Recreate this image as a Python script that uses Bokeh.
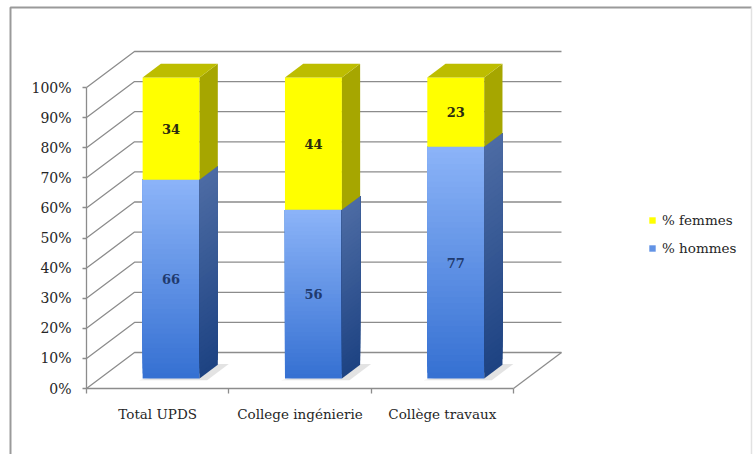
from bokeh.plotting import figure
from bokeh.models import Range1d, LinearAxis, FixedTicker, Legend, LegendItem
from bokeh.core.properties import value
from bokeh.embed import file_html
from bokeh.resources import INLINE

# ---- data -------------------------------------------------------------
categories = ["Total UPDS", "College ingénierie", "Collège travaux"]
hommes = [66, 56, 77]          # % hommes (bottom segment)
femmes = [34, 44, 23]          # % femmes (top segment)
series_names = ["% femmes", "% hommes"]
y_ticks = [0, 10, 20, 30, 40, 50, 60, 70, 80, 90, 100]
y_tick_labels = ["0%", "10%", "20%", "30%", "40%", "50%", "60%", "70%", "80%", "90%", "100%"]

# ---- layout (pixels) --------------------------------------------------
W, H = 754, 454
AXIS_X_PX = 86.0      # front vertical axis
FLOOR_Y_PX = 388.0    # front 0% line
CAT_PX = 142.33       # width of one category on the front plane
PCT_PX = 3.01         # pixels per percent
DEPTH_X_PX, DEPTH_Y_PX = 48.0, 36.0   # full depth of the 3-D box

DXU = DEPTH_X_PX / CAT_PX
DYU = DEPTH_Y_PX / PCT_PX
Z_FRONT, Z_BACK = 0.28, 0.66          # depth span occupied by the columns
BAR_W = 0.40

GRID = "#8c8c8c"
SERIF = "DejaVu Serif"
TEXT = "#262626"


def px_x(px):
    return (px - AXIS_X_PX) / CAT_PX


def px_y(py):
    return (FLOOR_Y_PX - py) / PCT_PX


def proj(u, v, z):
    return u + z * DXU, v + z * DYU


def lerp_hex(c1, c2, t):
    a = [int(c1[i:i + 2], 16) for i in (1, 3, 5)]
    b = [int(c2[i:i + 2], 16) for i in (1, 3, 5)]
    return "#" + "".join(f"{round(x + (y - x) * t):02x}" for x, y in zip(a, b))


def face(u, v0, v1, z0, z1):
    """Side face (constant u) between heights v0..v1 and depths z0..z1."""
    pts = [proj(u, v0, z0), proj(u, v0, z1), proj(u, v1, z1), proj(u, v1, z0)]
    return [q[0] for q in pts], [q[1] for q in pts]


p = figure(width=W, height=H,
           x_range=Range1d(px_x(0), px_x(W)), y_range=Range1d(px_y(H), px_y(0)),
           x_axis_location=None, y_axis_location=None,
           toolbar_location=None, output_backend="svg", min_border=0,
           outline_line_color=None, background_fill_color="white",
           border_fill_color="white")
p.grid.grid_line_color = None

# chart-area frame
p.line([px_x(10), px_x(10), px_x(751)], [px_y(470), px_y(7), px_y(7)],
       line_color="#9a9a9a", line_width=2)
p.line([px_x(751), px_x(751)], [px_y(7), px_y(470)], line_color="#e2e2e2", line_width=1.5)

# ---- walls and floor --------------------------------------------------
n_cat = len(categories)
for t in y_ticks:
    x0, y0 = proj(0, t, 0)
    x1, y1 = proj(0, t, 1)
    x2, y2 = proj(n_cat, t, 1)
    p.line([x0, x1, x2], [y0, y1, y2], line_color=GRID, line_width=1.3)
fx0, fy0 = proj(n_cat, 0, 0)
fx1, fy1 = proj(n_cat, 0, 1)
p.line([fx0, fx1], [fy0, fy1], line_color=GRID, line_width=1.3)

# ---- 3-D stacked columns ----------------------------------------------
N_SLICES = 40
FRONT_TOP, FRONT_BOT = "#8cb4f8", "#3570d2"
SIDE_TOP, SIDE_BOT = "#4d6ca4", "#1d4282"
YEL_FRONT, YEL_SIDE, YEL_TOP = "#ffff00", "#a6a600", "#bdbd00"

legend_refs = {}
for i, (h, f) in enumerate(zip(hommes, femmes)):
    left, right = i + 0.5 - BAR_W / 2, i + 0.5 + BAR_W / 2
    lx, _ = proj(left, 0, Z_FRONT)
    rx, _ = proj(right, 0, Z_FRONT)
    total = h + f

    # soft contact shadow on the floor
    sh = [proj(left - 0.01, 0, Z_FRONT - 0.05), proj(right + 0.07, 0, Z_FRONT - 0.05),
          proj(right + 0.07, 0, Z_BACK + 0.02), proj(right, 0, Z_BACK + 0.02)]
    p.patch([q[0] for q in sh], [q[1] for q in sh], fill_color="#7f7f7f",
            fill_alpha=0.22, line_color=None)

    # blue segment: overlapping slices, shaded light (top) to deep blue (bottom)
    bots, cols, sxs, sys_, scols = [], [], [], [], []
    for k in range(N_SLICES):
        v0 = h * k / N_SLICES
        t = 1 - (k + 0.5) / N_SLICES
        bots.append(proj(left, v0, Z_FRONT)[1])
        cols.append(lerp_hex(FRONT_TOP, FRONT_BOT, t))
        xs, ys = face(right, v0, h, Z_FRONT, Z_BACK)
        sxs.append(xs)
        sys_.append(ys)
        scols.append(lerp_hex(SIDE_TOP, SIDE_BOT, t))
    top_blue = proj(left, h, Z_FRONT)[1]
    r_blue = p.quad(left=lx, right=rx, bottom=bots, top=top_blue,
                    fill_color=cols, line_color=None)
    p.patches(sxs, sys_, fill_color=scols, line_color=None)

    # yellow segment
    yb = proj(left, h, Z_FRONT)[1]
    yt = proj(left, total, Z_FRONT)[1]
    r_yel = p.quad(left=lx, right=rx, bottom=yb, top=yt,
                   fill_color=YEL_FRONT, line_color=None)
    xs, ys = face(right, h, total, Z_FRONT, Z_BACK)
    p.patch(xs, ys, fill_color=YEL_SIDE, line_color=None)
    # top face
    pts = [proj(left, total, Z_FRONT), proj(left, total, Z_BACK),
           proj(right, total, Z_BACK), proj(right, total, Z_FRONT)]
    p.patch([q[0] for q in pts], [q[1] for q in pts],
            fill_color=YEL_TOP, line_color=None)

    # value labels, centred on each segment's front face
    cx = proj(i + 0.5, 0, Z_FRONT)[0]
    p.text(x=[cx], y=[proj(0, h / 2, Z_FRONT)[1]], text=[str(h)],
           text_font=value(SERIF), text_font_style="bold", text_font_size="13px",
           text_color="#1f3a6e", text_align="center", text_baseline="middle")
    p.text(x=[cx], y=[proj(0, h + f / 2, Z_FRONT)[1]], text=[str(f)],
           text_font=value(SERIF), text_font_style="bold", text_font_size="13px",
           text_color="#2b2b10", text_align="center", text_baseline="middle")

    legend_refs.setdefault("femmes", r_yel)
    legend_refs.setdefault("hommes", r_blue)

# ---- axes -------------------------------------------------------------
yaxis = LinearAxis(fixed_location=0, bounds=(0, 100),
                   ticker=FixedTicker(ticks=y_ticks),
                   major_label_overrides={t: lab for t, lab in zip(y_ticks, y_tick_labels)},
                   major_tick_in=0, major_tick_out=4, minor_tick_line_color=None,
                   axis_line_color=GRID, axis_line_width=1.3,
                   major_tick_line_color=GRID, major_tick_line_width=1.3,
                   major_label_standoff=11,
                   major_label_text_font=SERIF, major_label_text_font_size="14px",
                   major_label_text_color=TEXT)
p.add_layout(yaxis, "left")

xaxis = LinearAxis(fixed_location=0, bounds=(0, n_cat),
                   ticker=FixedTicker(ticks=list(range(n_cat + 1))),
                   major_tick_in=0, major_tick_out=5, minor_tick_line_color=None,
                   axis_line_color=GRID, axis_line_width=1.3,
                   major_tick_line_color=GRID, major_tick_line_width=1.3,
                   major_label_text_color=None)
p.add_layout(xaxis, "below")

centres = [i + 0.5 for i in range(n_cat)]
xlabels = LinearAxis(fixed_location=0,
                     ticker=FixedTicker(ticks=centres),
                     major_label_overrides={c: name for c, name in zip(centres, categories)},
                     major_tick_line_color=None, minor_tick_line_color=None,
                     axis_line_color=None, major_label_standoff=11,
                     major_label_text_font=SERIF, major_label_text_font_size="13.5px",
                     major_label_text_color=TEXT)
p.add_layout(xlabels, "below")

# ---- legend -----------------------------------------------------------
legend = Legend(items=[LegendItem(label=series_names[0], renderers=[legend_refs["femmes"]]),
                       LegendItem(label=series_names[1], renderers=[legend_refs["hommes"]], index=N_SLICES // 2)],
                location=(648, 198), orientation="vertical",
                glyph_width=8, glyph_height=8, label_height=16, spacing=12,
                label_standoff=6, padding=0, margin=0,
                border_line_color=None, background_fill_alpha=0,
                label_text_font=SERIF, label_text_font_size="13.5px",
                label_text_color=TEXT)
p.add_layout(legend, "center")

open("out.html", "w").write(file_html(p, INLINE))
